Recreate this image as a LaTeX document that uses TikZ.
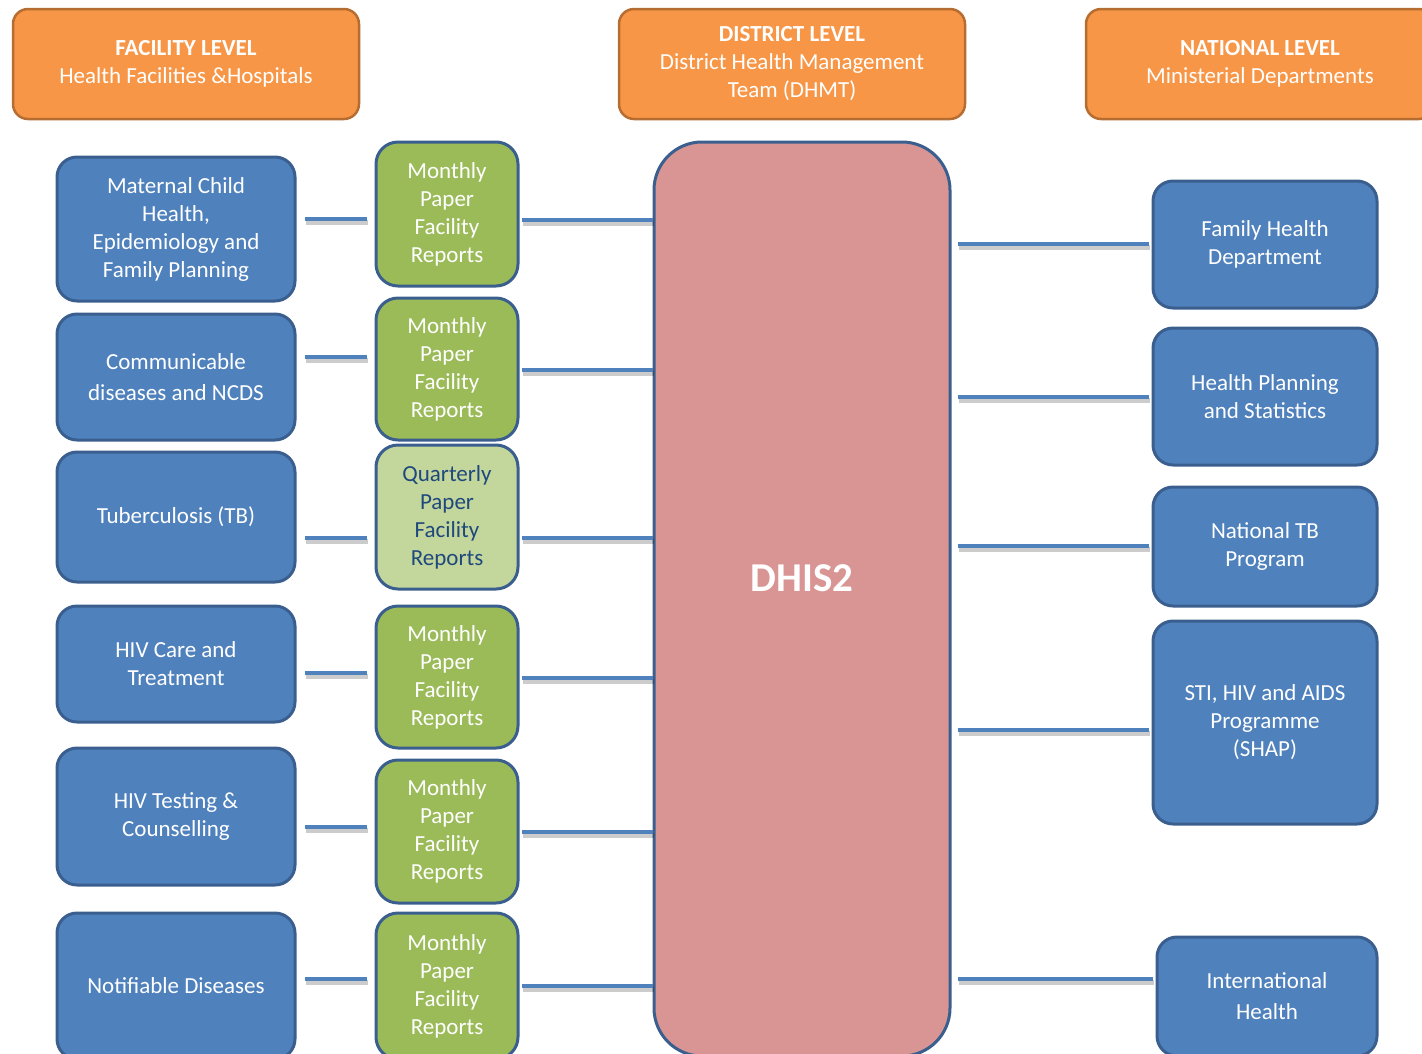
\documentclass[tikz,border=0pt]{standalone}
\usepackage{fontspec}
\setmainfont{Carlito}
\usepackage{tikz}

\definecolor{orgfill}{HTML}{F79646}
\definecolor{orgdk}{HTML}{B66D31}
\definecolor{bluefill}{HTML}{4F81BD}
\definecolor{bluedk}{HTML}{3A5F8E}
\definecolor{grnfill}{HTML}{9BBB59}
\definecolor{grnlt}{HTML}{C3D69B}
\definecolor{navytxt}{HTML}{1F497D}
\definecolor{pinkfill}{HTML}{D99594}
\definecolor{lnk}{HTML}{4F81BD}

\begin{document}
\begin{tikzpicture}[
  x=1pt, y=-1pt,
  font=\fontsize{23}{28}\selectfont,
  box/.style={draw=bluedk, line width=3pt, rounded corners=20pt, align=center,
              text=white, inner sep=4pt},
  level/.style={box, draw=orgdk, fill=orgfill, line width=2.5pt,
                rounded corners=15pt, minimum width=346pt, minimum height=110pt},
  unit/.style={box, fill=bluefill, minimum width=238pt},
  report/.style={box, fill=grnfill, minimum width=142pt, rounded corners=22pt},
  dept/.style={box, fill=bluefill, minimum width=224pt},
  link/.style={draw=lnk, line width=4pt,
               preaction={draw=black, opacity=.2, line width=5pt,
                          transform canvas={xshift=1pt, yshift=-3pt}}},
]
\useasboundingbox (0,0) rectangle (1422,1053);

% ---- level headers -----------------------------------------------------
\node[level] (fac)  at (186,64)  {{\bfseries FACILITY LEVEL}\\Health Facilities \&Hospitals};
\node[level] (dist) at (792,64)  {{\bfseries DISTRICT LEVEL}\\District Health Management\\Team (DHMT)};
\node[level, minimum width=348pt] (nat) at (1260,64) {{\bfseries NATIONAL LEVEL}\\Ministerial Departments};

% ---- facility programmes -----------------------------------------------
\node[unit, minimum height=144pt] (u1) at (176,229)   {Maternal Child\\Health,\\Epidemiology and\\Family Planning};
\node[unit, minimum height=126pt] (u2) at (176,377)   {Communicable\\[3pt]diseases and NCDS};
\node[unit, minimum height=130pt] (u3) at (176,517)   {Tuberculosis (TB)};
\node[unit, minimum height=116pt] (u4) at (176,664)   {HIV Care and\\Treatment};
\node[unit, minimum height=137pt] (u5) at (176,816.5) {HIV Testing \&\\Counselling};
\node[unit, minimum height=146pt] (u6) at (176,986)   {Notifiable Diseases};

% ---- paper reports -----------------------------------------------------
\node[report, minimum height=144pt] (r1) at (447,214)   {Monthly\\Paper\\Facility\\Reports};
\node[report, minimum height=142pt] (r2) at (447,369)   {Monthly\\Paper\\Facility\\Reports};
\node[report, minimum height=144pt, fill=grnlt, text=navytxt] (r3) at (447,517) {Quarterly\\Paper\\Facility\\Reports};
\node[report, minimum height=142pt] (r4) at (447,677)   {Monthly\\Paper\\Facility\\Reports};
\node[report, minimum height=143pt] (r5) at (447,831.5) {Monthly\\Paper\\Facility\\Reports};
\node[report, minimum height=146pt] (r6) at (447,986)   {Monthly\\Paper\\Facility\\Reports};

% ---- district system ---------------------------------------------------
\node[box, fill=pinkfill, rounded corners=48pt, minimum width=296pt, minimum height=914pt,
      label={[text=white, font=\fontsize{41}{48}\selectfont\bfseries, yshift=21pt]center:DHIS2}]
  (dhis) at (802,599) {};

% ---- national departments ----------------------------------------------
\node[dept, minimum height=127pt] (d1) at (1265,244.5) {Family Health\\Department};
\node[dept, minimum height=137pt] (d2) at (1265,396.5) {Health Planning\\and Statistics};
\node[dept, minimum height=119pt] (d3) at (1265,546.5) {National TB\\Program};
\node[dept, minimum height=203pt] (d4) at (1265,722.5) {STI, HIV and AIDS\\Programme\\(SHAP)};
\node[dept, minimum width=220pt, minimum height=119pt] (d5) at (1267,996.5) {International\\[3pt]Health};

% ---- programme -> report -----------------------------------------------
\foreach \i/\y in {1/219, 2/357, 3/538, 4/673, 5/827, 6/979}
  \draw[link, shorten <=8pt, shorten >=8pt] (u\i.east |- 0,\y) -- (r\i.west |- 0,\y);

% ---- report -> DHIS2 ---------------------------------------------------
\foreach \i/\y in {1/220, 2/370, 3/538, 4/678, 5/832, 6/986}
  \draw[link, shorten <=2pt] (r\i.east |- 0,\y) -- (dhis.west |- 0,\y);

% ---- DHIS2 -> departments ----------------------------------------------
\foreach \i/\y in {1/244, 2/397, 3/546, 4/730, 5/979}
  \draw[link, shorten <=6pt, shorten >=3pt] (dhis.east |- 0,\y) -- (d\i.west |- 0,\y);

\end{tikzpicture}
\end{document}
